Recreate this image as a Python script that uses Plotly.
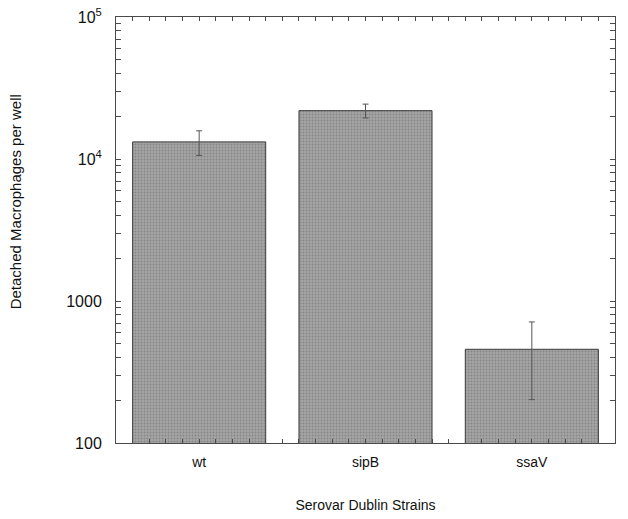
import plotly.graph_objects as go

strains = ["wt", "sipB", "ssaV"]
detached = [13200, 21900, 457]
err = [2600, 2450, 255]

y_major = [100, 1000, 10000, 100000]
y_major_text = ["100", "1000", "10<sup>4</sup>", "10<sup>5</sup>"]

font_family = "Liberation Sans, Arial, sans-serif"
frame = "#4a4a4a"

# x ticks every 0.1 category, labels only at category centres
x_tickvals = [round(-0.5 + 0.1 * i, 2) for i in range(31)]
x_ticktext = [strains[int(round(v))] if abs(v - round(v)) < 1e-6 else "" for v in x_tickvals]

# y ticks at every 1..9 x decade, labels only at decades
y_tickvals = [m * 10 ** e for e in (2, 3, 4) for m in range(1, 10)] + [100000]
y_ticktext = [y_major_text[y_major.index(v)] if v in y_major else "" for v in y_tickvals]

fig = go.Figure()
fig.add_trace(go.Bar(
    x=list(range(len(strains))),
    y=detached,
    width=0.8,
    marker=dict(
        color="#9f9f9f",
        line=dict(color="#3a3a3a", width=1),
        pattern=dict(shape=".", fgcolor="#6a6a6a", bgcolor="#a4a4a4", size=3, solidity=0.35),
    ),
    error_y=dict(type="data", array=err, visible=True, color="#555555", thickness=1, width=3),
))

fig.update_layout(
    width=628, height=519,
    margin=dict(l=116, r=13, t=17, b=76, autoexpand=False),
    plot_bgcolor="white", paper_bgcolor="white",
    showlegend=False,
    font=dict(family=font_family, color="#111"),
)

fig.update_xaxes(
    range=[-0.5, 2.5],
    tickmode="array", tickvals=x_tickvals, ticktext=x_ticktext,
    ticks="inside", ticklen=4, tickcolor=frame, tickwidth=1,
    showline=True, linecolor=frame, linewidth=1, mirror="ticks",
    showgrid=False, zeroline=False, automargin=False,
    tickfont=dict(size=14),
    ticklabelstandoff=6,
    title=dict(text="Serovar Dublin Strains", font=dict(size=14), standoff=31),
)

fig.update_yaxes(
    type="log", range=[2, 5],
    tickmode="array", tickvals=y_tickvals, ticktext=y_ticktext,
    ticks="inside", ticklen=5, tickcolor=frame, tickwidth=1,
    showline=True, linecolor=frame, linewidth=1, mirror="ticks",
    showgrid=False, zeroline=False, automargin=False,
    tickfont=dict(size=16),
    ticklabelstandoff=10,
    ticklabeloverflow="allow",
)

fig.add_annotation(
    text="Detached Macrophages per well",
    xref="paper", yref="paper", x=-0.2024, y=0.565,
    xanchor="center", yanchor="middle", textangle=-90,
    showarrow=False, font=dict(size=15),
)

fig.write_html(
    "out.html",
    config={"displayModeBar": False},
    post_script="document.body.style.margin='0';document.body.style.overflow='hidden';",
)
